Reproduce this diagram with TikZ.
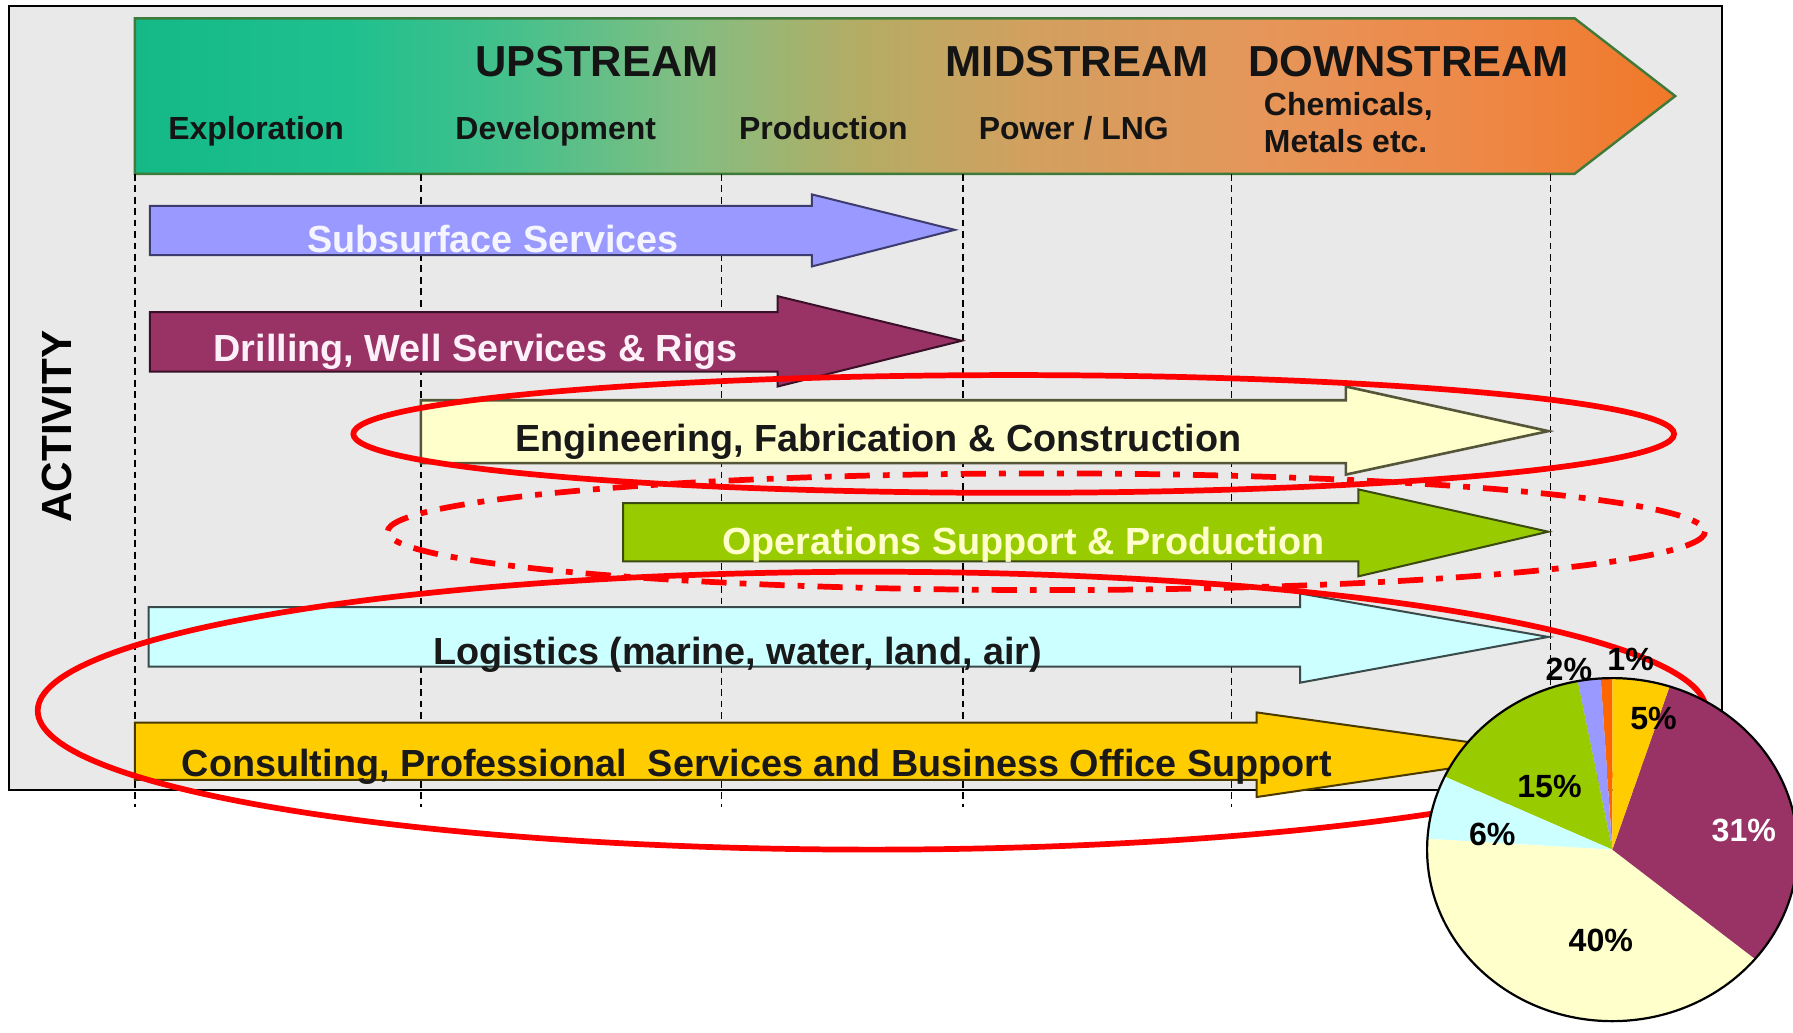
\documentclass[tikz,border=0pt]{standalone}
\usepackage{fontspec}
\setmainfont{Liberation Sans}
\definecolor{frameg}{HTML}{E9E9E9}
\definecolor{hdrborder}{HTML}{3E7A3A}
\definecolor{h1}{RGB}{20,185,135}
\definecolor{h2}{RGB}{30,192,142}
\definecolor{h3}{RGB}{70,192,140}
\definecolor{h4}{RGB}{130,190,130}
\definecolor{h5}{RGB}{180,172,100}
\definecolor{h6}{RGB}{210,160,95}
\definecolor{h7}{RGB}{230,150,90}
\definecolor{h8}{RGB}{238,135,70}
\definecolor{h9}{RGB}{240,120,40}
\definecolor{subc}{HTML}{9999FF}
\definecolor{subb}{HTML}{3C3C6E}
\definecolor{drlc}{HTML}{993366}
\definecolor{drlb}{HTML}{3A1028}
\definecolor{engc}{HTML}{FFFFCC}
\definecolor{engb}{HTML}{55553A}
\definecolor{opsc}{HTML}{99CC00}
\definecolor{opsb}{HTML}{3A4A10}
\definecolor{logc}{HTML}{CCFFFF}
\definecolor{logb}{HTML}{3A4A4A}
\definecolor{conc}{HTML}{FFCC00}
\definecolor{conb}{HTML}{4A3A00}
\definecolor{pieorange}{HTML}{FF6600}
\pgfdeclarehorizontalshading{hdrshade}{100bp}{color(0bp)=(h1); color(25bp)=(h1); color(31.8bp)=(h2); color(37.3bp)=(h3); color(42.9bp)=(h4); color(48.5bp)=(h5); color(54bp)=(h6); color(61.5bp)=(h7); color(68.9bp)=(h8); color(75bp)=(h9); color(100bp)=(h9)}
\tikzset{
  hdrtxt/.style={font=\bfseries\fontsize{21.6}{24}\selectfont, inner sep=0pt, anchor=base, text=black!92},
  subtxt/.style={font=\bfseries\fontsize{15.9}{18}\selectfont, inner sep=0pt, anchor=base, text=black!92},
  arrtxt/.style={font=\bfseries\fontsize{18.8}{22}\selectfont, inner sep=0pt, anchor=base},
  pietxt/.style={font=\bfseries\fontsize{16}{18}\selectfont, inner sep=0pt, anchor=base},
  vdash/.style={line width=0.85pt, dash pattern=on 3.4pt off 2.3pt},
  blockarrow/.style={line width=1pt, line join=miter},
  redring/.style={draw=red, line width=2.85pt},
}
\begin{document}
\begin{tikzpicture}[x=0.02cm,y=-0.02cm]
\useasboundingbox (0,0) rectangle (1568,903);
\fill[white] (0,0) rectangle (1568,903);
% frame
\draw[line width=1.2pt, fill=frameg] (8,5) rectangle (1506,691);
% header arrow
\path[shading=hdrshade, draw=hdrborder, line width=1.2pt] (118,16) -- (1377,16) -- (1465,84) -- (1377,152) -- (118,152) -- cycle;
\node[hdrtxt] (up) at (522,66.6) {UPSTREAM};
\node[hdrtxt] (mid) at (942,66.6) {MIDSTREAM};
\node[hdrtxt] (down) at (1232,66.6) {DOWNSTREAM};
\node[subtxt] (expl) at (224,122) {Exploration};
\node[subtxt] (dev) at (486,122) {Development};
\node[subtxt] (prod) at (720,122) {Production};
\node[subtxt] (pow) at (939,122) {Power / LNG};
\node[subtxt, anchor=base west] (chem) at (1105,101) {Chemicals,};
\node[subtxt, anchor=base west] (met) at (1105,133) {Metals etc.};
% activity label
\node[font=\bfseries\fontsize{21}{24}\selectfont, inner sep=0pt, rotate=90] (act) at (50,373) {ACTIVITY};
% vertical dashed lines (behind the arrows)
\foreach \xx in {118,368,631,842,1077,1356} \draw[vdash] (\xx,152) -- (\xx,706);
% block arrows
\path[blockarrow, fill=subc, draw=subb] (131,180) -- (710,180) -- (710,170) -- (835,201) -- (710,233) -- (710,223) -- (131,223) -- cycle;
\node[arrtxt, text=white!96!blue] (sub) at (431,221) {Subsurface Services};
\path[blockarrow, fill=drlc, draw=drlb] (131,273) -- (680,273) -- (680,259) -- (841,298) -- (680,338) -- (680,325) -- (131,325) -- cycle;
\node[arrtxt, text=white!94!magenta] (drl) at (416,316) {Drilling, Well Services \& Rigs};
\path[blockarrow, fill=engc, draw=engb, line width=1.3pt] (368,350) -- (1177,350) -- (1177,338) -- (1354,377) -- (1177,415) -- (1177,405) -- (368,405) -- cycle;
\node[arrtxt, text=black!90] (eng) at (768,395) {Engineering, Fabrication \& Construction};
\path[blockarrow, fill=opsc, draw=opsb] (545,440) -- (1188,440) -- (1188,428) -- (1354,465) -- (1188,504) -- (1188,491) -- (545,491) -- cycle;
\node[arrtxt, text=engc] (ops) at (895,485) {Operations Support \& Production};
\path[blockarrow, fill=logc, draw=logb] (130,531) -- (1137,531) -- (1137,519) -- (1354,557) -- (1137,597) -- (1137,583) -- (130,583) -- cycle;
\node[arrtxt, text=black!90] (logi) at (645,581) {Logistics (marine, water, land, air)};
\path[blockarrow, fill=conc, draw=conb] (118,632) -- (1099,632) -- (1099,623) -- (1356,659) -- (1099,697) -- (1099,682) -- (118,682) -- cycle;
\node[arrtxt, text=black!90] (cons) at (662,679) {Consulting, Professional\ \ Services and Business Office Support};
% red ellipses
\draw[redring] (886.5,379.5) ellipse[x radius=577.5, y radius=51.5];
\draw[redring, dash pattern=on 12.5pt off 6.5pt on 3.4pt off 6.5pt] (915,465) ellipse[x radius=576, y radius=51];
\draw[redring] (762.5,621.5) ellipse[x radius=729.5, y radius=121.5];
% pie chart
\begin{scope}[shift={(1410,743)}, y=0.02cm]
  \fill[pieorange] (0,0) -- (90:162 and 150) arc[start angle=90, end angle=93.6, x radius=162, y radius=150] -- cycle;
  \fill[subc] (0,0) -- (93.6:162 and 150) arc[start angle=93.6, end angle=100.8, x radius=162, y radius=150] -- cycle;
  \fill[opsc] (0,0) -- (100.8:162 and 150) arc[start angle=100.8, end angle=154.8, x radius=162, y radius=150] -- cycle;
  \fill[logc] (0,0) -- (154.8:162 and 150) arc[start angle=154.8, end angle=176.4, x radius=162, y radius=150] -- cycle;
  \fill[engc] (0,0) -- (176.4:162 and 150) arc[start angle=176.4, end angle=320.4, x radius=162, y radius=150] -- cycle;
  \fill[drlc] (0,0) -- (320.4:162 and 150) arc[start angle=320.4, end angle=432, x radius=162, y radius=150] -- cycle;
  \fill[conc] (0,0) -- (72:162 and 150) arc[start angle=72, end angle=90, x radius=162, y radius=150] -- cycle;
  \draw[line width=1.1pt] (0,0) ellipse[x radius=162, y radius=150];
\end{scope}
\node[pietxt] (p1) at (1426,586) {1\%};
\node[pietxt] (p2) at (1372,595) {2\%};
\node[pietxt] (p5) at (1446,638) {5\%};
\node[pietxt, text=white] (p31) at (1525,736) {31\%};
\node[pietxt] (p40) at (1400,832) {40\%};
\node[pietxt] (p6) at (1305,739) {6\%};
\node[pietxt] (p15) at (1355,697) {15\%};
\end{tikzpicture}
\end{document}
